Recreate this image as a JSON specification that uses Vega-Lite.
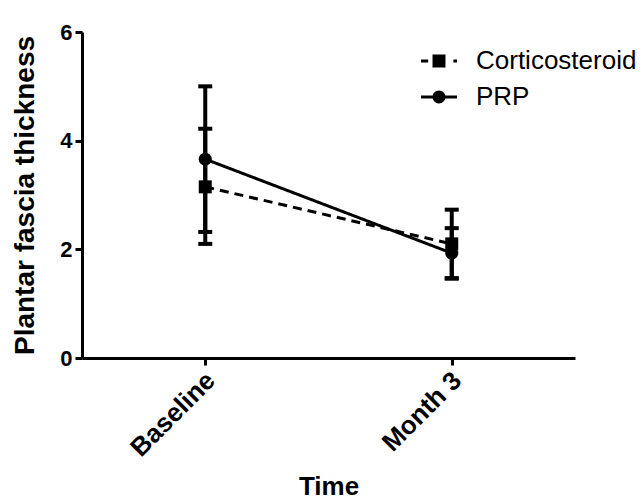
{
  "$schema": "https://vega.github.io/schema/vega-lite/v6.json",
  "width": 493,
  "height": 326,
  "autosize": {"type": "none"},
  "padding": {"left": 82, "top": 32, "right": 67, "bottom": 146},
  "background": "white",
  "config": {
    "view": {"stroke": null},
    "font": "Liberation Sans",
    "axis": {
      "grid": false,
      "domainColor": "black",
      "domainWidth": 3,
      "tickColor": "black",
      "tickWidth": 3,
      "tickSize": 7,
      "labelFont": "Liberation Sans",
      "labelFontSize": 22,
      "labelFontWeight": "bold",
      "labelColor": "black",
      "titleFont": "Liberation Sans",
      "titleFontSize": 26,
      "titleFontWeight": "bold",
      "titleColor": "black"
    }
  },
  "data": {
    "values": [
      {"time": "Baseline", "group": "Corticosteroid", "mean": 3.15, "lower": 2.1, "upper": 4.22},
      {"time": "Month 3", "group": "Corticosteroid", "mean": 2.1, "lower": 1.47, "upper": 2.73},
      {"time": "Baseline", "group": "PRP", "mean": 3.66, "lower": 2.32, "upper": 5.0},
      {"time": "Month 3", "group": "PRP", "mean": 1.93, "lower": 1.46, "upper": 2.39}
    ]
  },
  "encoding": {
    "x": {
      "field": "time",
      "type": "nominal",
      "sort": ["Baseline", "Month 3"],
      "scale": {"type": "point", "padding": 0.5},
      "axis": {"title": "Time", "labelAngle": -45, "labelPadding": 2, "labelOffset": -4, "labelFontSize": 26, "titlePadding": 12}
    }
  },
  "layer": [
    {
      "mark": {"type": "line", "color": "black", "strokeWidth": 3},
      "encoding": {
        "y": {
          "field": "mean",
          "type": "quantitative",
          "scale": {"domain": [0, 6], "nice": false, "zero": true},
          "axis": {"title": "Plantar fascia thickness", "titleFontSize": 28, "values": [0, 2, 4, 6], "format": "d", "labelPadding": 3, "titlePadding": 20}
        },
        "strokeDash": {
          "field": "group",
          "type": "nominal",
          "scale": {"domain": ["Corticosteroid", "PRP"], "range": [[9, 6], [1, 0]]},
          "legend": null
        }
      }
    },
    {
      "mark": {"type": "rule", "color": "black", "strokeWidth": 4},
      "encoding": {
        "y": {"field": "lower", "type": "quantitative"},
        "y2": {"field": "upper"}
      }
    },
    {
      "mark": {"type": "tick", "color": "black", "size": 14, "thickness": 4, "opacity": 1},
      "encoding": {
        "y": {"field": "lower", "type": "quantitative"}
      }
    },
    {
      "mark": {"type": "tick", "color": "black", "size": 14, "thickness": 4, "opacity": 1},
      "encoding": {
        "y": {"field": "upper", "type": "quantitative"}
      }
    },
    {
      "mark": {"type": "point", "filled": true, "color": "black", "size": 169, "opacity": 1},
      "encoding": {
        "y": {"field": "mean", "type": "quantitative"},
        "shape": {
          "field": "group",
          "type": "nominal",
          "scale": {"domain": ["Corticosteroid", "PRP"], "range": ["square", "circle"]},
          "legend": null
        }
      }
    },
    {
      "mark": {"type": "point", "filled": true, "color": "black", "size": 0, "opacity": 1},
      "encoding": {
        "y": {"field": "mean", "type": "quantitative"},
        "shape": {
          "field": "group",
          "type": "nominal",
          "scale": {
            "domain": ["Corticosteroid", "PRP"],
            "range": [
              "M-1,-0.09H-0.6V0.09H-1Z M-0.36,-0.36H0.36V0.36H-0.36Z M0.8,-0.09H1V0.09H0.8Z",
              "M-1,-0.09H1V0.09H-1Z M0.36,0A0.36,0.36 0 1,1 -0.36,0A0.36,0.36 0 1,1 0.36,0Z"
            ]
          },
          "legend": {
            "title": null,
            "orient": "none",
            "legendX": 338,
            "legendY": 10,
            "padding": 0,
            "rowPadding": 4,
            "symbolSize": 1296,
            "labelFont": "Liberation Sans",
            "labelFontSize": 26,
            "labelColor": "black",
            "labelOffset": 18,
            "labelLimit": 0
          }
        }
      }
    }
  ],
  "resolve": {"scale": {"shape": "independent"}, "legend": {"shape": "independent"}}
}
